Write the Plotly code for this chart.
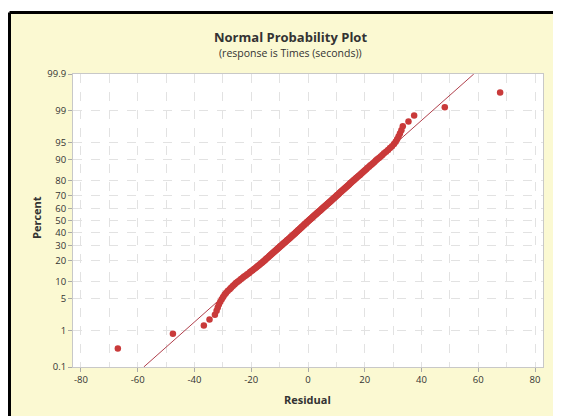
import plotly.graph_objects as go
from statistics import NormalDist, mean, stdev

# Residuals (sorted, n = 200)
residuals = [
    -67.0, -47.6, -36.7, -34.7, -32.8, -32.2, -31.8, -31.4, -30.9, -30.4,
    -29.9, -29.4, -28.9, -28.3, -27.6, -27.1, -26.5, -25.9, -25.4, -24.8,
    -24.2, -23.6, -23.0, -22.5, -21.9, -21.4, -20.8, -20.4, -19.9, -19.4,
    -19.0, -18.5, -18.1, -17.7, -17.3, -16.9, -16.5, -16.1, -15.8, -15.4,
    -15.1, -14.8, -14.5, -14.1, -13.8, -13.5, -13.2, -12.9, -12.6, -12.3,
    -12.0, -11.7, -11.4, -11.1, -10.9, -10.6, -10.3, -10.0, -9.8, -9.5,
    -9.2, -8.9, -8.7, -8.4, -8.1, -7.9, -7.6, -7.4, -7.1, -6.8,
    -6.6, -6.3, -6.1, -5.9, -5.6, -5.4, -5.1, -4.9, -4.6, -4.4,
    -4.2, -3.9, -3.7, -3.5, -3.2, -3.0, -2.8, -2.5, -2.3, -2.1,
    -1.9, -1.6, -1.4, -1.2, -1.0, -0.7, -0.5, -0.3, -0.1, 0.2,
    0.4, 0.7, 0.9, 1.1, 1.4, 1.6, 1.8, 2.0, 2.3, 2.5,
    2.8, 3.0, 3.2, 3.5, 3.7, 4.0, 4.2, 4.5, 4.7, 4.9,
    5.2, 5.4, 5.7, 5.9, 6.2, 6.4, 6.7, 6.9, 7.2, 7.4,
    7.7, 7.9, 8.2, 8.4, 8.7, 8.9, 9.2, 9.4, 9.7, 10.0,
    10.2, 10.5, 10.8, 11.0, 11.3, 11.6, 11.8, 12.1, 12.4, 12.7,
    13.0, 13.3, 13.6, 13.9, 14.2, 14.5, 14.8, 15.1, 15.4, 15.8,
    16.1, 16.4, 16.8, 17.1, 17.5, 17.9, 18.3, 18.6, 19.0, 19.4,
    19.8, 20.2, 20.6, 21.0, 21.5, 21.9, 22.4, 22.9, 23.4, 23.9,
    24.4, 25.0, 25.6, 26.2, 26.8, 27.5, 28.2, 28.9, 29.6, 30.3,
    30.9, 31.4, 31.9, 32.4, 32.9, 33.4, 35.4, 37.4, 48.2, 67.7,
]

y_tick_percents = [0.1, 1, 5, 10, 20, 30, 40, 50, 60, 70, 80, 90, 95, 99, 99.9]
y_tick_labels = ["0.1", "1", "5", "10", "20", "30", "40", "50", "60", "70",
                 "80", "90", "95", "99", "99.9"]
x_tick_values = [-80, -60, -40, -20, 0, 20, 40, 60, 80]

title_text = "Normal Probability Plot"
subtitle_text = "(response is Times (seconds))"
x_title = "Residual"
y_title = "Percent"

nd = NormalDist()
xs = sorted(residuals)
n = len(xs)
# Benard median-rank plotting positions, transformed to normal scores
z_scores = [nd.inv_cdf((i + 1 - 0.3) / (n + 0.4)) for i in range(n)]
mu = mean(xs)
sd = stdev(xs)
z_lo = nd.inv_cdf(0.001)
z_hi = nd.inv_cdf(0.999)
line_z = [z_lo, z_hi]
line_x = [mu + sd * v for v in line_z]
y_tick_z = [nd.inv_cdf(p / 100.0) for p in y_tick_percents]

# the page adds an 8px body margin; work in screen pixels and shift
OFF = 8
W, H = 561, 416
plot_l, plot_r, plot_t, plot_b = 73, 543, 74, 367  # screen pixels
L = plot_l - OFF
T = plot_t - OFF
pw = plot_r - plot_l
ph = plot_b - plot_t
R = W - L - pw
B = H - T - ph


def px(xs_pix):
    return (xs_pix - plot_l) / pw


def py(ys_pix):
    return (plot_b - ys_pix) / ph


cream = "#FBF9D2"
font_fam = "Open Sans, Noto Sans, DejaVu Sans, sans-serif"
text_col = "#333333"

fig = go.Figure()
fig.add_trace(go.Scatter(
    x=line_x, y=line_z, mode="lines",
    line=dict(color="#B0404C", width=1),
    hoverinfo="skip", showlegend=False,
))
fig.add_trace(go.Scatter(
    x=xs, y=z_scores, mode="markers",
    marker=dict(color="#C93A3A", size=6.5, line=dict(width=0)),
    showlegend=False,
))

grid_col = "#E2E2E2"
fig.update_xaxes(
    range=[-82.8, 82.8],
    tickmode="array", tickvals=x_tick_values,
    ticktext=[str(v) for v in x_tick_values],
    showgrid=True, gridcolor=grid_col, griddash="dash", gridwidth=1,
    minor=dict(dtick=10, tick0=0, showgrid=True, gridcolor=grid_col,
               griddash="dash", ticks=""),
    zeroline=False,
    showline=True, linecolor="#C8C8C8", linewidth=1, mirror=True,
    ticks="outside", ticklen=4, tickcolor="#AAAAAA",
    tickfont=dict(family=font_fam, size=9.5, color=text_col),
)
fig.update_yaxes(
    range=[z_lo, z_hi],
    tickmode="array", tickvals=y_tick_z, ticktext=y_tick_labels,
    showgrid=True, gridcolor=grid_col, griddash="dash", gridwidth=1,
    zeroline=False,
    showline=True, linecolor="#C8C8C8", linewidth=1, mirror=True,
    ticks="outside", ticklen=4, tickcolor="#AAAAAA",
    tickfont=dict(family=font_fam, size=9.5, color=text_col),
)

frame_left = px(9.5)
frame_top = py(12.5)
shapes = [
    dict(type="rect", xref="paper", yref="paper", x0=px(-20), x1=frame_left,
         y0=py(H + 40), y1=py(-20), fillcolor="white", line=dict(width=0),
         layer="below"),
    dict(type="rect", xref="paper", yref="paper", x0=px(-20), x1=px(W + 40),
         y0=frame_top, y1=py(-20), fillcolor="white", line=dict(width=0),
         layer="below"),
    dict(type="line", xref="paper", yref="paper", x0=frame_left, x1=frame_left,
         y0=py(H + 40), y1=frame_top, line=dict(color="black", width=3),
         layer="below"),
    dict(type="line", xref="paper", yref="paper", x0=frame_left, x1=px(W + 40),
         y0=frame_top, y1=frame_top, line=dict(color="black", width=3),
         layer="below"),
]

annotations = [
    dict(text="<b>" + title_text + "</b>", xref="paper", yref="paper",
         x=px(290), y=py(37), xanchor="center", yanchor="middle",
         showarrow=False, font=dict(family=font_fam, size=13, color=text_col)),
    dict(text=subtitle_text, xref="paper", yref="paper",
         x=px(290), y=py(53), xanchor="center", yanchor="middle",
         showarrow=False, font=dict(family=font_fam, size=10.5, color=text_col)),
    dict(text="<b>" + x_title + "</b>", xref="paper", yref="paper",
         x=px(307), y=py(400), xanchor="center", yanchor="middle",
         showarrow=False, font=dict(family=font_fam, size=11, color=text_col)),
    dict(text="<b>" + y_title + "</b>", xref="paper", yref="paper",
         x=px(36), y=py(218), xanchor="center", yanchor="middle", textangle=-90,
         showarrow=False, font=dict(family=font_fam, size=11, color=text_col)),
]

fig.update_layout(
    width=W, height=H,
    margin=dict(l=L, r=R, t=T, b=B, pad=0),
    paper_bgcolor=cream, plot_bgcolor="white",
    shapes=shapes, annotations=annotations,
    showlegend=False,
)

fig.write_html("out.html")
